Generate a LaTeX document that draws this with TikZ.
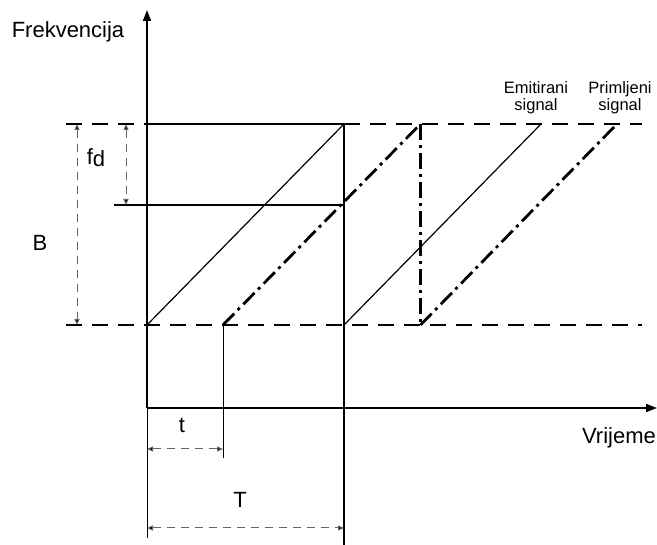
\documentclass[tikz,border=0pt]{standalone}
\usepackage{fontspec}
\setmainfont{Liberation Sans}
\usetikzlibrary{arrows.meta}
\begin{document}
\begin{tikzpicture}[x=1pt,y=-1pt,
  axis/.style={line width=1.8pt,-{Triangle[length=11pt,width=8pt]}},
  guide/.style={line width=1.4pt,dash pattern=on 16pt off 10pt},
  solidl/.style={line width=1.6pt},
  emit/.style={line width=1.2pt},
  recv/.style={line width=2.8pt,dash pattern=on 16pt off 5pt on 3pt off 5pt},
  thinl/.style={line width=1pt},
  dim/.style={line width=1pt,gray!80!black,dash pattern=on 8pt off 6pt,{Triangle[length=6pt,width=5pt,fill=black]}-{Triangle[length=6pt,width=5pt,fill=black]}},
  lbl/.style={font=\fontsize{22}{24}\selectfont,inner sep=0pt},
  slbl/.style={font=\fontsize{16.5}{17}\selectfont,inner sep=0pt,align=center}
]
\useasboundingbox (0,0) rectangle (657,545);
% coordinates
\coordinate (O) at (147,408);
\coordinate (Ytop) at (147,10);
\coordinate (Xend) at (657,408);
\coordinate (TLd) at (66,124);
\coordinate (TLs) at (147,124);
\coordinate (TRs) at (344,124);
\coordinate (TRd) at (642,124);
\coordinate (BLd) at (66,325);
\coordinate (BRd) at (642,325);
\coordinate (H1) at (114,205);
\coordinate (H2) at (344,205);
\coordinate (Vb) at (344,545);
\coordinate (Ob) at (147,538);
\coordinate (e1s) at (147,325);
\coordinate (e1e) at (344,124);
\coordinate (e2s) at (344,325);
\coordinate (e2e) at (541,124);
\coordinate (r1s) at (223,325);
\coordinate (r1e) at (420.5,124);
\coordinate (r2s) at (420.5,325);
\coordinate (r2e) at (617,124);
\coordinate (tb) at (223,458);
\coordinate (Bt) at (77,124);
\coordinate (Bb) at (77,325);
\coordinate (ft) at (126,124);
\coordinate (fb) at (126,205);
\coordinate (tl) at (147,449);
\coordinate (tr) at (223,449);
\coordinate (Tl) at (147,528);
\coordinate (Tr) at (344,528);
% guides
\draw[guide] (TLd) -- (TLs);
\draw[guide] (TRs) -- (TRd);
\draw[guide] (BLd) -- (BRd);
\draw[solidl] (TLs) -- (TRs);
% axes
\draw[axis] (O) -- (Ytop);
\draw[axis] (O) -- (Xend);
\draw[thinl] (O) -- (Ob);
% verticals and horizontal
\draw[solidl] (TRs) -- (Vb);
\draw[solidl] (H1) -- (H2);
\draw[thinl] (r1s) -- (tb);
% signals
\draw[emit] (e1s) -- (e1e);
\draw[emit] (e2s) -- (e2e);
\draw[recv] (r1s) -- (r1e);
\draw[recv,line width=3.2pt] (r1e) -- (r2s);
\draw[recv] (r2s) -- (r2e);
% dimensions
\draw[dim] (Bt) -- (Bb);
\draw[dim] (ft) -- (fb);
\draw[dim] (tl) -- (tr);
\draw[dim] (Tl) -- (Tr);
% labels
\node[lbl] (lf) at (68,32) {Frekvencija};
\node[lbl] (lv) at (619,438) {Vrijeme};
\node[lbl] (lB) at (40,243) {B};
\node[lbl] (lfd) at (96,158) {f\raisebox{-2pt}{d}};
\node[lbl] (lt) at (182,425) {t};
\node[lbl] (lT) at (240,500) {T};
\node[slbl] (le) at (536,98) {Emitirani\\signal};
\node[slbl] (lp) at (620,98) {Primljeni\\signal};
\end{tikzpicture}
\end{document}
